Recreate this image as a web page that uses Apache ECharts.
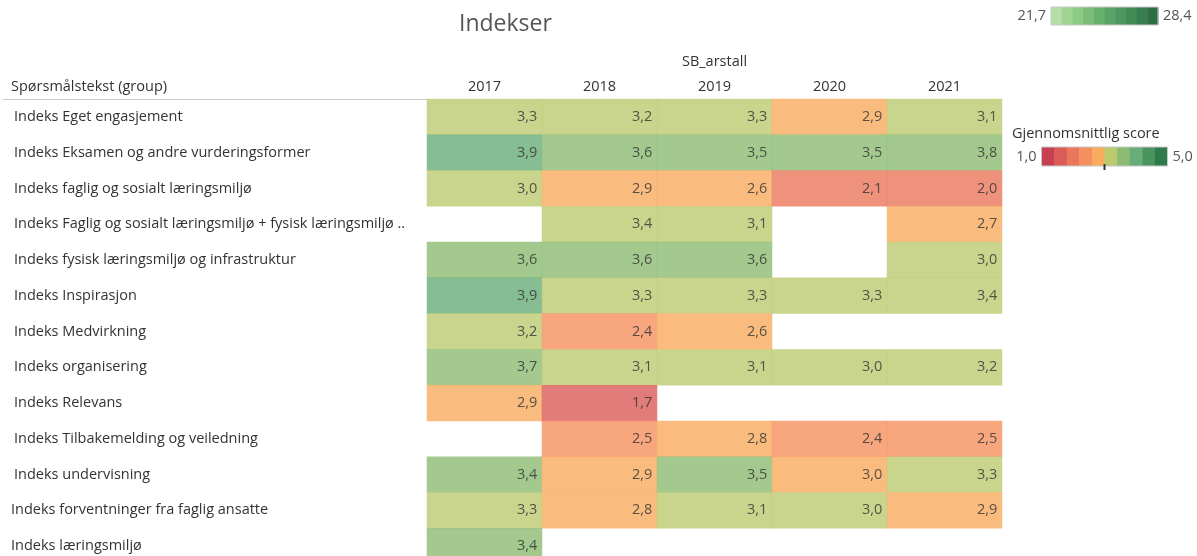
<!DOCTYPE html>
<html>
<head>
<meta charset="utf-8">
<script src="https://cdn.jsdelivr.net/npm/echarts@6/dist/echarts.min.js"></script>
<style>
  html, body { margin: 0; padding: 0; background: #fff; overflow: hidden; }
  #chart { width: 1197px; height: 566px; }
</style>
</head>
<body>
<div id="chart"></div>
<script>
// kategorier
var years = ['2017', '2018', '2019', '2020', '2021'];
var questions = [
  'Indeks Eget engasjement',
  'Indeks Eksamen og andre vurderingsformer',
  'Indeks faglig og sosialt læringsmiljø',
  'Indeks Faglig og sosialt læringsmiljø + fysisk læringsmiljø ..',
  'Indeks fysisk læringsmiljø og infrastruktur',
  'Indeks Inspirasjon',
  'Indeks Medvirkning',
  'Indeks organisering',
  'Indeks Relevans',
  'Indeks Tilbakemelding og veiledning',
  'Indeks undervisning',
  'Indeks forventninger fra faglig ansatte',
  'Indeks læringsmiljø'
];
// gjennomsnittlig score per rad (2017..2021), null = ingen data
var s2017 = [3.3, 3.9, 3.02, null, 3.6, 3.9, 3.2, 3.7, 2.9, null, 3.42, 3.3, 3.42];
var s2018 = [3.2, 3.6, 2.9, 3.38, 3.6, 3.3, 2.4, 3.1, 1.7, 2.5, 2.9, 2.8, null];
var s2019 = [3.3, 3.5, 2.62, 3.1, 3.6, 3.3, 2.62, 3.1, null, 2.8, 3.5, 3.1, null];
var s2020 = [2.9, 3.5, 2.1, null, null, 3.3, null, 3.02, null, 2.4, 2.98, 3.02, null];
var s2021 = [3.1, 3.78, 2.0, 2.7, 3.02, 3.38, null, 3.2, null, 2.5, 3.3, 2.9, null];
var scoreCols = [s2017, s2018, s2019, s2020, s2021];

// farger (Tableau rød-grønn, 10 trinn 1,0 - 5,0)
var scoreColors = ['#c6404f', '#db5b59', '#eb775b', '#f5905e', '#f9ab5e',
                   '#bbca6f', '#8cbc73', '#68ad78', '#4a945f', '#2f7b4c'];
var scoreRange = ['1,0', '5,0'];
var sizeColors = ['#b4dfa6', '#a1d594', '#8ccb86', '#79bd79', '#68b06e',
                  '#58a366', '#4c975f', '#418a56', '#387d4f', '#2e6e45'];
var sizeRange = ['21,7', '28,4'];

var FONT = '"Open Sans", sans-serif';
var FS = 14.5;

var data = [];
scoreCols.forEach(function (col, xi) {
  col.forEach(function (v, yi) {
    if (v != null) data.push([xi, yi, v]);
  });
});

var pieces = scoreColors.map(function (c, i) {
  return { gte: 1 + i * 0.4, lt: 1.4 + i * 0.4, color: c };
});

var graphics = [];
function stepLegend (colors, range, x, y, w, h) {
  colors.forEach(function (c, i) {
    graphics.push({ type: 'rect', shape: { x: x + i * w, y: y, width: w + 0.5, height: h }, style: { fill: c } });
  });
  graphics.push({ type: 'rect', shape: { x: x, y: y, width: w * colors.length, height: h }, style: { fill: 'none', stroke: '#c8c8c8', lineWidth: 1 } });
  graphics.push({ type: 'text', x: x - 5, y: y + h / 2, style: { text: range[0], font: FS + 'px ' + FONT, fill: '#555', align: 'right', verticalAlign: 'middle' } });
  graphics.push({ type: 'text', x: x + w * colors.length + 5, y: y + h / 2, style: { text: range[1], font: FS + 'px ' + FONT, fill: '#555', align: 'left', verticalAlign: 'middle' } });
}
// grønn skala øverst til høyre
stepLegend(sizeColors, sizeRange, 1051, 7, 10.7, 18);
// fargeskala for score
graphics.push({ type: 'text', x: 1012, y: 134, style: { text: 'Gjennomsnittlig score', font: FS + 'px ' + FONT, fill: '#333', verticalAlign: 'middle' } });
stepLegend(scoreColors, scoreRange, 1041.5, 147, 12.6, 19);
graphics.push({ type: 'line', shape: { x1: 1104.5, y1: 164, x2: 1104.5, y2: 170 }, style: { stroke: '#333', lineWidth: 2 }, z: 100 });

// tabelloverskrift
graphics.push({ type: 'text', x: 11, y: 87, style: { text: 'Spørsmålstekst (group)', font: FS + 'px ' + FONT, fill: '#333', verticalAlign: 'middle' } });
graphics.push({ type: 'line', shape: { x1: 3, y1: 99.5, x2: 427, y2: 99.5 }, style: { stroke: '#c8c8c8', lineWidth: 1 } });

var chart = echarts.init(document.getElementById('chart'));
chart.setOption({
  animation: false,
  textStyle: { fontFamily: FONT },
  title: {
    text: 'Indekser',
    left: 454, top: 8,
    textStyle: { fontSize: 23, fontWeight: 'normal', color: '#555', fontFamily: FONT }
  },
  grid: { left: 427, top: 99, width: 575, height: 465 },
  xAxis: {
    type: 'category',
    data: years,
    position: 'top',
    name: 'SB_arstall',
    nameLocation: 'middle',
    nameGap: 30,
    nameTextStyle: { fontSize: FS, color: '#333' },
    axisLine: { show: false },
    axisTick: { show: false },
    splitLine: { show: false },
    axisLabel: { fontSize: FS, color: '#333', margin: 5 }
  },
  yAxis: {
    type: 'category',
    data: questions,
    inverse: true,
    axisLine: { show: false },
    axisTick: { show: false },
    splitLine: { show: false },
    axisLabel: {
      fontSize: FS, color: '#333', align: 'left', margin: 416,
      // de to siste radene står litt lenger til venstre i originalen
      formatter: function (v, i) { return i >= 11 ? '{a|' + v + '}' : '{b|' + v + '}'; },
      rich: {
        a: { fontSize: FS, color: '#333' },
        b: { fontSize: FS, color: '#333', padding: [0, 0, 0, 3] }
      }
    }
  },
  visualMap: {
    type: 'piecewise',
    show: false,
    pieces: pieces,
    dimension: 2
  },
  series: [{
    type: 'heatmap',
    data: data,
    itemStyle: { opacity: 0.8, borderWidth: 0 },
    label: {
      show: true,
      position: 'insideRight',
      distance: 5,
      fontSize: FS,
      color: '#333',
      formatter: function (p) { return p.value[2].toFixed(1).replace('.', ','); }
    },
    emphasis: { disabled: true }
  }],
  graphic: graphics
});
</script>
</body>
</html>
